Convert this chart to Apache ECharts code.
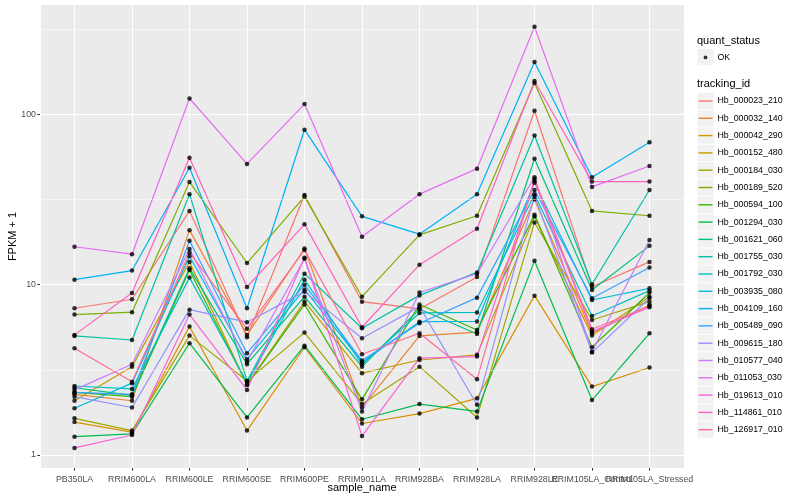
<!DOCTYPE html>
<html><head><meta charset="utf-8">
<script src="https://cdn.jsdelivr.net/npm/echarts@6/dist/echarts.min.js"></script>
<style>html,body{margin:0;padding:0;background:#fff}#c{width:800px;height:500px}</style>
</head><body><div id="c"></div>
<script>
// ---- data ----
const categories = ['PB350LA','RRIM600LA','RRIM600LE','RRIM600SE','RRIM600PE','RRIM901LA','RRIM928BA','RRIM928LA','RRIM928LE','RRIM105LA_Control','RRIM105LA_Stressed'];
const trackingIds = ['Hb_000023_210','Hb_000032_140','Hb_000042_290','Hb_000152_480','Hb_000184_030','Hb_000189_520','Hb_000594_100','Hb_001294_030','Hb_001621_060','Hb_001755_030','Hb_001792_030','Hb_003935_080','Hb_004109_160','Hb_005489_090','Hb_009615_180','Hb_010577_040','Hb_011053_030','Hb_019613_010','Hb_114861_010','Hb_126917_010'];
const colors = ['#F8766D','#EA8331','#D89000','#C09B00','#A3A500','#7CAE00','#39B600','#00BB4E','#00BF7D','#00C1A3','#00BFC4','#00BAE0','#00B0F6','#35A2FF','#9590FF','#C77CFF','#E76BF3','#FA62DB','#FF62BC','#FF6C91'];
const hb000023_210 = [7.27, 8.21, 27.1, 4.91, 33.6, 7.95, 7.20, 11.1, 105, 9.73, 13.6];
const hb000032_140 = [2.27, 2.08, 20.9, 5.07, 16.3, 1.90, 5.00, 5.26, 31.7, 5.18, 7.60];
const hb000042_290 = [1.56, 1.36, 5.67, 1.39, 4.29, 1.53, 1.75, 2.15, 8.62, 2.52, 3.26];
const hb000152_480 = [2.08, 3.30, 13.6, 2.58, 7.97, 3.02, 3.61, 3.87, 25.1, 5.02, 8.50];
const hb000184_030 = [1.64, 1.39, 5.02, 2.72, 5.23, 1.99, 3.30, 1.66, 23.2, 6.20, 7.95];
const hb000189_520 = [6.67, 6.89, 40.1, 13.4, 32.9, 8.50, 19.6, 25.4, 153, 27.1, 25.4];
const hb000594_100 = [2.33, 2.20, 12.2, 2.58, 7.65, 2.12, 7.65, 5.42, 25.7, 4.29, 8.97];
const hb001294_030 = [1.28, 1.33, 4.53, 1.66, 4.38, 1.62, 1.99, 1.80, 13.8, 2.10, 5.18];
const hb001621_060 = [2.48, 2.24, 12.5, 3.41, 8.50, 3.30, 7.20, 5.13, 54.9, 9.31, 16.9];
const hb001755_030 = [5.00, 4.73, 34.0, 2.72, 11.6, 5.55, 8.65, 11.8, 75.2, 10.05, 36.0];
const hb001792_030 = [2.54, 2.44, 11.0, 2.66, 10.7, 3.41, 6.82, 6.87, 34.0, 6.55, 9.22];
const hb003935_080 = [1.88, 2.64, 14.7, 3.65, 9.37, 3.50, 6.06, 6.08, 39.7, 8.13, 9.52];
const hb004109_160 = [10.7, 12.1, 48.6, 7.27, 81.3, 25.2, 19.8, 34.0, 203, 42.7, 68.6];
const hb005489_090 = [2.33, 2.27, 18.1, 3.96, 10.0, 3.58, 5.93, 8.39, 36.0, 8.32, 12.6];
const hb009615_180 = [2.20, 1.90, 7.13, 6.02, 9.10, 4.85, 7.43, 1.97, 33.3, 3.99, 8.35];
const hb010577_040 = [2.41, 3.41, 16.2, 3.53, 14.2, 1.80, 9.00, 11.6, 42.7, 4.04, 18.3];
const hb011053_030 = [16.7, 15.1, 124, 51.2, 115, 19.1, 34.0, 48.0, 327, 37.5, 49.8];
const hb019613_010 = [1.10, 1.31, 6.67, 2.41, 14.4, 1.29, 3.70, 3.78, 40.6, 5.30, 7.37];
const hb114861_010 = [5.07, 8.94, 55.7, 9.69, 22.6, 5.62, 13.1, 21.3, 157, 40.3, 40.3];
const hb126917_010 = [4.23, 2.69, 15.4, 5.50, 16.0, 3.90, 5.18, 2.78, 41.8, 5.47, 7.50];
const seriesValues = [hb000023_210, hb000032_140, hb000042_290, hb000152_480, hb000184_030, hb000189_520, hb000594_100, hb001294_030, hb001621_060, hb001755_030, hb001792_030, hb003935_080, hb004109_160, hb005489_090, hb009615_180, hb010577_040, hb011053_030, hb019613_010, hb114861_010, hb126917_010];
const yTickValues = [1, 10, 100];
const yTickLabels = ['1', '10', '100'];
const yMinorValues = [3.1623, 31.623, 316.23];

// ---- chart ----
const FONT = "'Liberation Sans', Arial, Helvetica, sans-serif";
const chart = echarts.init(document.getElementById('c'), null, {renderer: 'canvas'});

// plot panel geometry (ggplot discrete axis: 0.6 units padding each side)
const PL = 40, PT = 5, PW = 644, PH = 463;
const unit = PW / (categories.length - 1 + 1.2);

const lineSeries = trackingIds.map((id, k) => ({
  name: id, type: 'line', z: 2, silent: true,
  data: seriesValues[k].map((v, i) => [i, v]),
  symbol: 'none', showSymbol: false,
  lineStyle: {width: 1.2, color: colors[k]},
  itemStyle: {color: colors[k]}
}));
const pointData = [];
seriesValues.forEach(arr => arr.forEach((v, i) => pointData.push([i, v])));
const pointSeries = {name: 'OK', type: 'scatter', z: 3, silent: true, data: pointData,
  symbol: 'circle', symbolSize: 4.5, itemStyle: {color: '#000'}};
const minorSeries = {name: '_minor', type: 'line', z: 1, data: [], silent: true,
  markLine: {silent: true, symbol: 'none', label: {show: false},
    lineStyle: {color: '#FFFFFF', width: 0.5, type: 'solid'},
    data: yMinorValues.map(v => ({yAxis: v}))}};

const keyRects = [];
keyRects.push({type: 'rect', shape: {x: 697.5, y: 48.9, width: 16.3, height: 16.3}, style: {fill: '#F2F2F2'}});
trackingIds.forEach((_, i) => keyRects.push({type: 'rect', shape: {x: 697.5, y: 92.85 + 17.3 * i, width: 16.3, height: 16.3}, style: {fill: '#F2F2F2'}}));

chart.setOption({
  animation: false,
  backgroundColor: '#FFFFFF',
  grid: [
    {left: PL, top: PT, width: PW, height: PH, show: true, backgroundColor: '#EBEBEB', borderWidth: 0,
      containLabel: false, outerBoundsMode: 'none'},
    {left: PL + 0.1 * unit, top: PT, width: unit * categories.length, height: PH, show: false,
      containLabel: false, outerBoundsMode: 'none'}
  ],
  xAxis: [{
    gridIndex: 0, type: 'value', min: -0.6, max: 10.6, minInterval: 1, maxInterval: 1, splitNumber: 11,
    axisLine: {show: false, onZero: false}, axisTick: {show: false}, axisLabel: {show: false},
    splitLine: {show: true, lineStyle: {color: '#FFFFFF', width: 1}},
    name: 'sample_name', nameLocation: 'middle', nameGap: 14,
    nameTextStyle: {color: '#000', fontSize: 11, fontFamily: FONT, verticalAlign: 'top'}
  }, {
    gridIndex: 1, type: 'category', data: categories, boundaryGap: true,
    axisLine: {show: false, onZero: false},
    axisTick: {show: true, alignWithLabel: true, interval: 0, length: 2.7, lineStyle: {color: '#333333', width: 1}},
    axisLabel: {interval: 0, color: '#4D4D4D', fontSize: 8.8, fontFamily: FONT, margin: 7, hideOverlap: false},
    splitLine: {show: false}
  }],
  yAxis: [{
    gridIndex: 0, type: 'log', logBase: 10, min: 0.838, max: 439,
    axisLine: {show: false, onZero: false},
    axisTick: {show: true, length: 2.7, lineStyle: {color: '#333333', width: 1}, customValues: yTickValues},
    axisLabel: {customValues: yTickValues, formatter: v => {
        const i = yTickValues.findIndex(t => Math.abs(t - v) < 1e-6 * t);
        return i >= 0 ? yTickLabels[i] : '';
      }, color: '#4D4D4D', fontSize: 8.8, fontFamily: FONT, margin: 4, showMinLabel: true, showMaxLabel: true},
    splitLine: {show: true, lineStyle: {color: '#FFFFFF', width: 1}}
  }, {
    gridIndex: 1, type: 'value', min: 0, max: 1, show: false
  }],
  legend: [
    {data: ['OK'], orient: 'vertical', left: 703.6, top: 48.75, padding: 0, itemGap: 0,
     itemWidth: 3.8, itemHeight: 3.8, icon: 'circle', selectedMode: false,
     textStyle: {fontSize: 8.8, fontFamily: FONT, color: '#000', lineHeight: 17.3, padding: [0, 0, 0, 5]}},
    {data: trackingIds, orient: 'vertical', left: 698.5, top: 92.35, padding: 0, itemGap: 0,
     itemWidth: 14, itemHeight: 1.4, icon: 'rect', selectedMode: false,
     textStyle: {fontSize: 8.8, fontFamily: FONT, color: '#000', lineHeight: 17.3}}
  ],
  graphic: [
    ...keyRects,
    {type: 'text', x: 12.5, y: PT + PH / 2, rotation: Math.PI / 2,
     style: {text: 'FPKM + 1', fontSize: 11, fontFamily: FONT, fill: '#000', align: 'center', verticalAlign: 'middle'}},
    {type: 'text', x: 697, y: 40.7, style: {text: 'quant_status', fontSize: 11, fontFamily: FONT, fill: '#000', verticalAlign: 'middle'}},
    {type: 'text', x: 697, y: 84.3, style: {text: 'tracking_id', fontSize: 11, fontFamily: FONT, fill: '#000', verticalAlign: 'middle'}}
  ],
  series: [minorSeries, ...lineSeries, pointSeries]
});
</script></body></html>
